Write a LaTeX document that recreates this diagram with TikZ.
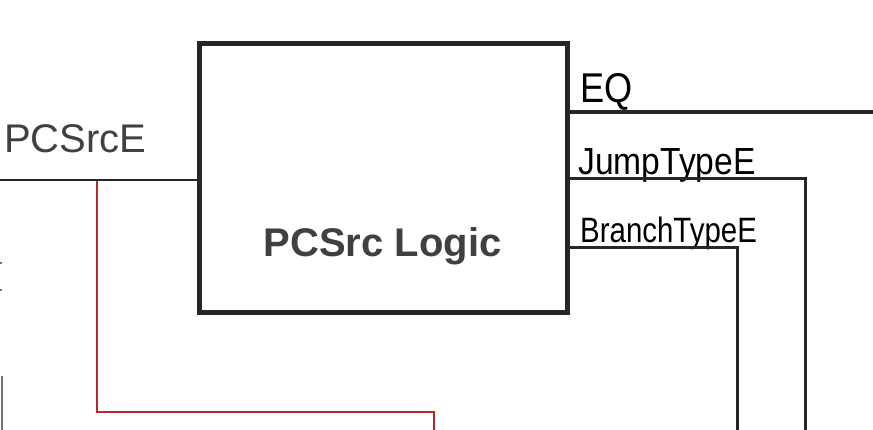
\documentclass[tikz,border=0pt]{standalone}
\usepackage{fontspec}
\setmainfont{Liberation Sans}
\begin{document}
\begin{tikzpicture}[x=1pt,y=-1pt,
  wire/.style={line width=2.2pt,black!85},
  thickwire/.style={line width=4pt,black!85},
  midwire/.style={line width=3pt,black!85},
  redwire/.style={line width=2pt,color={rgb,255:red,185;green,40;blue,40}},
  label/.style={inner sep=0pt,anchor=base west,text=black!75,font=\fontsize{40}{44}\selectfont},
  hand/.style={inner sep=0pt,anchor=base west,text=black,font=\fontsize{32}{36}\selectfont}]
\useasboundingbox[fill=white] (0,0) rectangle (873,430);
% main block
\node[draw=black!85,line width=5pt,minimum width=368pt,minimum height=269pt,inner sep=0pt] (box) at (383,178.5) {};
\node[inner sep=0pt,anchor=base,text=black!75,font=\fontsize{40}{44}\selectfont\bfseries] (title) at (382.5,257) {PCSrc Logic};
% input
\node[label] (pcsrce) at (4,153) {PCSrcE};
\coordinate (pin) at (0,180);
\draw[wire] (pin) -- (pin -| box.west);
% red wire
\coordinate (r1) at (97,181);
\coordinate (r2) at (97,412);
\coordinate (r3) at (434,412);
\coordinate (r4) at (434,431);
\draw[redwire] (r1) -- (r2) -- (r3) -- (r4);
% outputs
\node[hand] (eq) at (580,103) {\scalebox{1.13}[1.3]{EQ}};
\coordinate (eqend) at (873,112);
\draw[thickwire] (eqend -| box.east) -- (eqend);
\node[hand] (jt) at (578,175) {\scalebox{1.05}[1.18]{JumpTypeE}};
\coordinate (jc) at (805,179);
\coordinate (jend) at (805,431);
\draw[midwire] (jc -| box.east) -- (jc) -- (jend);
\node[hand] (bt) at (580,243) {\scalebox{0.92}[1.1]{BranchTypeE}};
\coordinate (bc) at (737,248);
\coordinate (bend) at (737,431);
\draw[midwire] (bc -| box.east) -- (bc) -- (bend);
% clipped fragments at left edge
\coordinate (f1) at (0,263);
\coordinate (f2) at (0,290);
\coordinate (f3) at (1.5,376);
\coordinate (f4) at (1.5,431);
\draw[line width=2pt,black!55] (f1) -- ++(2,0);
\draw[line width=2pt,black!55] (f2) -- ++(2,0);
\draw[line width=2pt,black!55] (f3) -- (f4);
\end{tikzpicture}
\end{document}
